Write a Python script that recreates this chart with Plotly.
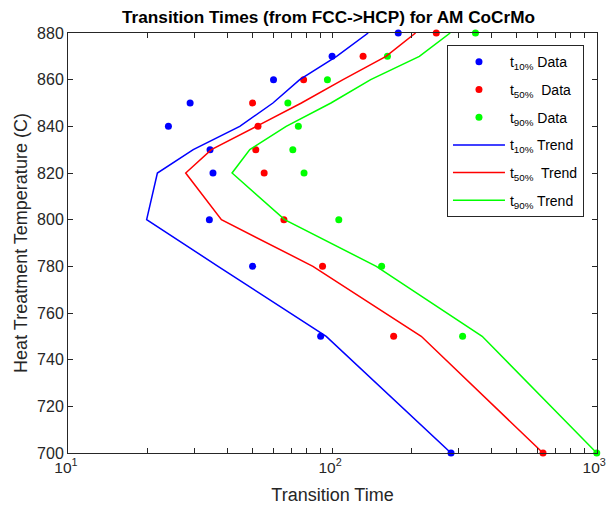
import plotly.graph_objects as go

temps = [880, 870, 860, 850, 840, 830, 820, 800, 780, 750, 700]

t10_data = [178, 100, 60, 29, 24, 34.5, 35.4, 34.3, 50, 90.5, 282]
t50_data = [248, 131, 78, 50, 52.4, 51.4, 55.3, 65.7, 92, 171, 629]
t90_data = [349, 162, 96, 68, 74.5, 71, 78.3, 106, 154, 312, 1005]

t10_trend = [137, 104, 75.4, 59.7, 44.7, 29.8, 21.8, 19.85, 37, 95, 282]
t50_trend = [207, 160, 110, 76.5, 51.7, 34.9, 27.9, 38.1, 84.6, 217.5, 629]
t90_trend = [280, 214, 140, 99, 67, 48.8, 41.8, 66.1, 147, 370, 1005]

x_major = [10, 100, 1000]
x_major_text = ["10<sup>1</sup>", "10<sup>2</sup>", "10<sup>3</sup>"]
y_ticks = list(range(700, 881, 20))

# log axis tick positions (major decades plus 2..9 multiples), labels only at decades
x_ticks = []
x_ticktext = []
for d in [10, 100]:
    for m in range(1, 10):
        x_ticks.append(d * m)
        x_ticktext.append(x_major_text[x_major.index(d)] if m == 1 else "")
x_ticks.append(1000)
x_ticktext.append(x_major_text[2])

colors = ["#0000FF", "#FF0000", "#00FF00"]
data_sets = [t10_data, t50_data, t90_data]
trend_sets = [t10_trend, t50_trend, t90_trend]
data_names = ["t<sub>10%</sub> Data", "t<sub>50%</sub>\u00a0 Data", "t<sub>90%</sub> Data"]
trend_names = ["t<sub>10%</sub> Trend", "t<sub>50%</sub>\u00a0 Trend", "t<sub>90%</sub> Trend"]

fig = go.Figure()
for i, (vals, c, n) in enumerate(zip(data_sets, colors, data_names)):
    fig.add_trace(go.Scatter(x=vals, y=temps, mode="markers", name=n,
                             legendgroup="d%d" % i,
                             marker=dict(color=c, size=7, line=dict(width=0)),
                             cliponaxis=False))
for i, (vals, c, n) in enumerate(zip(trend_sets, colors, trend_names)):
    fig.add_trace(go.Scatter(x=vals, y=temps, mode="lines", name=n,
                             legendgroup="t%d" % i,
                             line=dict(color=c, width=1.5)))

axis_common = dict(showline=True, linecolor="#262626", linewidth=1, mirror="ticks",
                   ticks="inside", ticklen=5, tickcolor="#262626", showgrid=False,
                   zeroline=False, ticklabeloverflow="allow", automargin=False)

fig.update_xaxes(type="log", range=[1, 3.003], tickmode="array", tickvals=x_ticks, ticktext=x_ticktext,
                 tickfont=dict(size=15.5, color="#262626"), ticklabelshift=-2,
                 title=dict(text="Transition Time", font=dict(size=18, color="#262626"), standoff=13),
                 **axis_common)
fig.update_yaxes(range=[700, 880], tickmode="array", tickvals=y_ticks,
                 tickfont=dict(size=16, color="#262626"),
                 title=dict(text="Heat Treatment Temperature (C)", font=dict(size=18, color="#262626"), standoff=4),
                 **axis_common)

fig.update_layout(
    width=607, height=510,
    margin=dict(l=68, r=10, t=33, b=57, autoexpand=False),
    paper_bgcolor="white", plot_bgcolor="white",
    font=dict(family="Liberation Sans, Arial, sans-serif", color="#262626"),
    title=dict(text="<b>Transition Times (from FCC->HCP) for AM CoCrMo</b>",
               xref="paper", x=0.4925, xanchor="center", y=0.967, yanchor="middle",
               font=dict(size=17.2, color="black")),
    legend=dict(x=0.7164, y=0.971, xanchor="left", yanchor="top",
                bordercolor="#262626", borderwidth=1, bgcolor="white",
                font=dict(size=14, color="black"), itemwidth=52, tracegroupgap=6.5,
                entrywidth=70, entrywidthmode="pixels"),
    showlegend=True,
)

fig.write_html("out.html", config={"displayModeBar": False},
               post_script="document.body.style.margin='0px';")
